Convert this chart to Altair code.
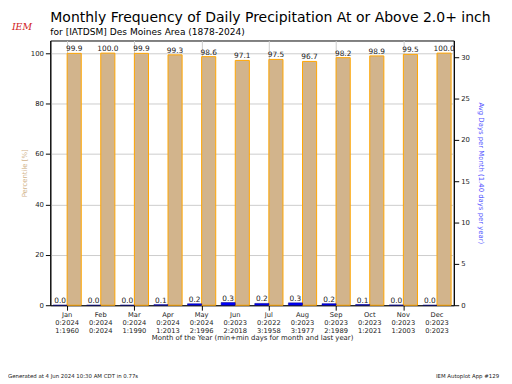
import altair as alt
import pandas as pd

months = ["Jan", "Feb", "Mar", "Apr", "May", "Jun", "Jul", "Aug", "Sep", "Oct", "Nov", "Dec"]
percentile = [99.9, 100.0, 99.9, 99.3, 98.6, 97.1, 97.5, 96.7, 98.2, 98.9, 99.5, 100.0]
avg_days = [0.007, 0.0, 0.007, 0.07, 0.18, 0.33, 0.22, 0.29, 0.19, 0.09, 0.03, 0.0]
last_year = ["0:2024", "0:2024", "0:2024", "0:2024", "0:2024", "0:2023",
             "0:2022", "0:2023", "0:2023", "0:2023", "0:2023", "0:2023"]
max_days = ["1:1960", "0:2024", "1:1990", "1:2013", "2:1996", "2:2018",
            "3:1958", "3:1977", "2:1989", "1:2021", "1:2003", "0:2023"]

title_text = "Monthly Frequency of Daily Precipitation At or Above 2.0+ inch"
subtitle_text = "for [IATDSM] Des Moines Area (1878-2024)"
footer_left = "Generated at 4 Jun 2024 10:30 AM CDT in 0.77s"
footer_right = "IEM Autoplot App #129"

FONT = "DejaVu Sans"
TAN = "#D2B48C"

df = pd.DataFrame({"m": list(range(1, 13)), "month": months, "pct": percentile, "avg": avg_days})
df["m_lo"] = df["m"] - 0.42
df["m_hi"] = df["m"] + 0.42
df["pct_x"] = df["m"] + 0.21
df["avg_x"] = df["m"] - 0.21
df["pct_lbl"] = [f"{v:.1f}" for v in percentile]
df["avg_lbl"] = [f"{v:.1f}" for v in avg_days]
df["xlbl"] = [f"{a}\n{b}\n{c}" for a, b, c in zip(months, last_year, max_days)]

xscale = alt.Scale(domain=[0.5, 12.5], nice=False, zero=False)
xaxis = alt.Axis(values=list(range(1, 13)), labels=False,
                 title="Month of the Year (min+min days for month and last year)",
                 grid=True, gridColor="#cccccc", titleColor="#222", titleFontSize=7,
                 titleFontWeight="normal", tickColor="#000", domainColor="#000",
                 titlePadding=23, titleFont=FONT)

yl_scale = alt.Scale(domain=[0, 105], nice=False)
yl_axis = alt.Axis(values=[0, 20, 40, 60, 80, 100], title="Percentile [%]", titleColor=TAN,
                   titleFontSize=7, titleFontWeight="normal", labelFontSize=7, labelColor="#222",
                   grid=True, gridColor="#cccccc", domainColor="#000", tickColor="#000",
                   labelFont=FONT, titleFont=FONT, titlePadding=3)

yr_scale = alt.Scale(domain=[0, 32], nice=False)
yr_axis = alt.Axis(values=[0, 5, 10, 15, 20, 25, 30], orient="right",
                   title="Avg Days per Month (1.40 days per year)", titleColor="#5050ff",
                   titleFontSize=7, titleFontWeight="normal", labelFontSize=7, labelColor="#222",
                   grid=False, domainColor="#000", tickColor="#000",
                   labelFont=FONT, titleFont=FONT, titlePadding=8)

base = alt.Chart(df)

tan_bars = base.mark_bar(color=TAN, stroke="#FFA500", strokeWidth=1).encode(
    x=alt.X("m:Q", scale=xscale, axis=xaxis),
    x2="m_hi:Q",
    y=alt.Y("pct:Q", scale=yl_scale, axis=yl_axis),
    y2=alt.datum(0),
)
tan_text = base.mark_text(baseline="bottom", fontSize=7.5, font=FONT, color="#222").encode(
    x=alt.X("pct_x:Q", scale=xscale),
    y=alt.Y("pct:Q", scale=yl_scale),
    text="pct_lbl:N",
)
x_labels = base.mark_text(baseline="top", fontSize=6.8, font=FONT, color="#222", lineBreak="\n",
                          lineHeight=8).encode(
    x=alt.X("m:Q", scale=xscale),
    y=alt.value(276),
    text="xlbl:N",
)

one = base.transform_filter("datum.m == 1")
t_title = one.mark_text(align="left", baseline="alphabetic", fontSize=14.2, font=FONT, color="#000",
                        text=title_text).encode(x=alt.value(0), y=alt.value(-19))
t_sub = one.mark_text(align="left", baseline="alphabetic", fontSize=9.2, font=FONT, color="#000",
                      text=subtitle_text).encode(x=alt.value(0), y=alt.value(-6))
t_foot_l = one.mark_text(align="left", baseline="alphabetic", fontSize=5.5, font=FONT, color="#222",
                         text=footer_left).encode(x=alt.value(-43), y=alt.value(343))
t_foot_r = one.mark_text(align="right", baseline="alphabetic", fontSize=5.5, font=FONT, color="#222",
                         text=footer_right).encode(x=alt.value(456), y=alt.value(343))
t_logo = one.mark_text(align="left", baseline="alphabetic", fontSize=9.5, font="DejaVu Serif",
                       fontStyle="italic", color="#d02020", text="IEM").encode(x=alt.value(-39), y=alt.value(-11))

left = alt.layer(tan_bars, tan_text, x_labels, t_title, t_sub, t_foot_l, t_foot_r, t_logo)

blue_bars = base.mark_bar(color="#0000ff", stroke="#000080", strokeWidth=0.5).encode(
    x=alt.X("m_lo:Q", scale=xscale),
    x2="m:Q",
    y=alt.Y("avg:Q", scale=yr_scale, axis=yr_axis),
    y2=alt.datum(0),
)
blue_text = base.mark_text(baseline="bottom", fontSize=7.5, font=FONT, color="#222").encode(
    x=alt.X("avg_x:Q", scale=xscale),
    y=alt.Y("avg:Q", scale=yr_scale),
    text="avg_lbl:N",
)
right = alt.layer(blue_bars, blue_text)

chart = alt.layer(left, right).resolve_scale(y="independent").properties(
    width=410, height=269,
    autosize=alt.AutoSizeParams(type="none"),
    padding={"left": 43, "top": 30, "right": 51, "bottom": 76},
).configure_view(stroke="#000", strokeWidth=1)

chart.save("out.html", embed_options={"renderer": "svg", "actions": False})
